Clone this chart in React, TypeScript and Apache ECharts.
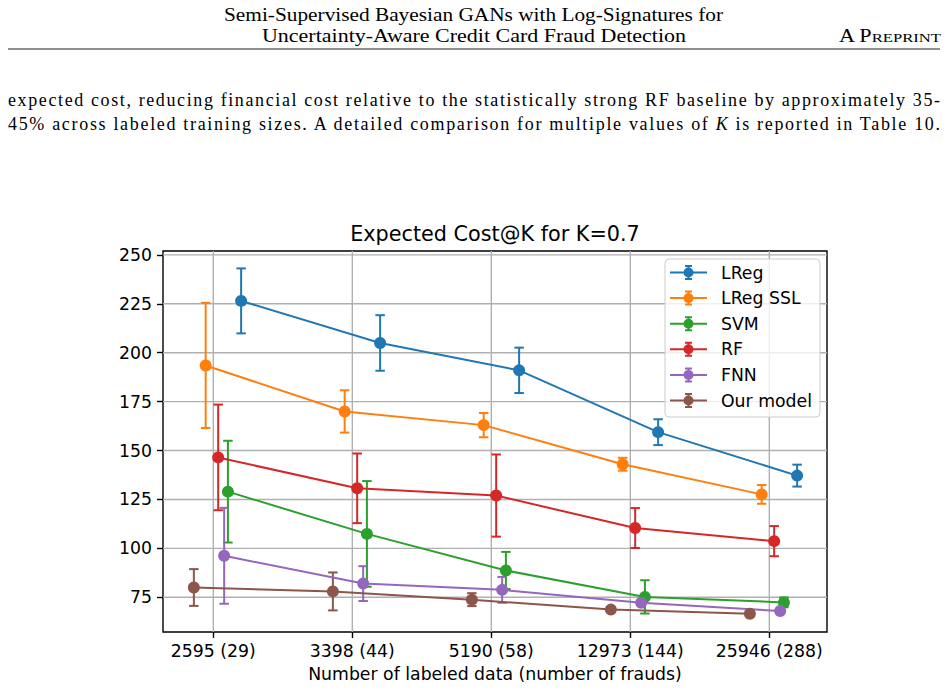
import React, { useEffect, useRef } from "react";
import * as echarts from "echarts";

// Labeled training set sizes (number of frauds in brackets)
const categories = ["2595 (29)", "3398 (44)", "5190 (58)", "12973 (144)", "25946 (288)"];
const models = ["LReg", "LReg SSL", "SVM", "RF", "FNN", "Our model"];

// Mean expected cost and its standard deviation per model
const lregMean = [226.5, 205.0, 191.0, 159.4, 137.2];
const lregErr = [16.6, 14.2, 11.6, 6.6, 5.6];
const lregSslMean = [193.5, 170.0, 163.0, 143.0, 127.6];
const lregSslErr = [32.0, 10.8, 6.2, 3.3, 4.8];
const svmMean = [129.0, 107.4, 88.7, 75.2, 72.4];
const svmErr = [26.0, 27.0, 9.5, 8.5, 2.5];
const rfMean = [146.5, 130.7, 127.0, 110.4, 103.7];
const rfErr = [27.0, 17.8, 21.0, 10.2, 7.7];
const fnnMean = [96.2, 82.0, 78.8, 72.2, 68.0];
const fnnErr = [24.5, 8.9, 6.6, 1.0, 1.0];
const oursMean = [80.0, 78.0, 73.8, 68.7, 66.6];
const oursErr = [9.4, 9.7, 3.3, 1.0, 1.0];

const yTicks = [75, 100, 125, 150, 175, 200, 225, 250];

const means = [lregMean, lregSslMean, svmMean, rfMean, fnnMean, oursMean];
const errs = [lregErr, lregSslErr, svmErr, rfErr, fnnErr, oursErr];

// matplotlib "tab10" colours and the horizontal dodge of each model
const palette = ["#1f77b4", "#ff7f0e", "#2ca02c", "#d62728", "#9467bd", "#8c564b"];
const dodge = [0.2, -0.055, 0.105, 0.035, 0.078, -0.14];

const FONT = "DejaVu Sans";
const FS = 17.3;
const CAP = 4.75;

// legend glyph: line + marker + error bar with caps
const legendIcon =
  "path://M0 6.5H37V8.5H0Z" +
  "M13.5 7.5A5 5 0 1 1 23.5 7.5A5 5 0 1 1 13.5 7.5Z" +
  "M17.5 0H19.5V15H17.5Z" +
  "M15 0H22V2H15Z" +
  "M15 13H22V15H15Z";

function buildOption(): echarts.EChartsOption {
  const series: any[] = [];

  // background grid: vertical lines at categories, horizontal at value ticks
  series.push({
    type: "custom",
    name: "grid lines",
    silent: true,
    z: 1,
    encode: { x: 0, y: 1 },
    data: [[0, yTicks[0]]],
    renderItem: (params: any, api: any) => {
      const cs = params.coordSys;
      const style = { stroke: "#b0b0b0", lineWidth: 1.4 };
      const children: any[] = [];
      categories.forEach((_, i) => {
        const x = api.coord([i, yTicks[0]])[0];
        children.push({
          type: "line",
          shape: { x1: x, y1: cs.y, x2: x, y2: cs.y + cs.height },
          style,
        });
      });
      yTicks.forEach((v) => {
        const y = api.coord([0, v])[1];
        children.push({
          type: "line",
          shape: { x1: cs.x, y1: y, x2: cs.x + cs.width, y2: y },
          style,
        });
      });
      return { type: "group", children };
    },
  });

  models.forEach((name, k) => {
    const color = palette[k];
    const xs = means[k].map((_, i) => i + dodge[k]);
    series.push({
      type: "custom",
      name: name + " error",
      silent: true,
      z: 2,
      encode: { x: 0, y: 1 },
      data: means[k].map((m, i) => [xs[i], m, errs[k][i]]),
      renderItem: (_params: any, api: any) => {
        const x = api.value(0);
        const m = api.value(1);
        const e = api.value(2);
        const top = api.coord([x, m + e]);
        const bot = api.coord([x, m - e]);
        const style = { stroke: color, lineWidth: 2 };
        return {
          type: "group",
          children: [
            { type: "line", shape: { x1: top[0], y1: top[1], x2: bot[0], y2: bot[1] }, style },
            { type: "line", shape: { x1: top[0] - CAP, y1: top[1], x2: top[0] + CAP, y2: top[1] }, style },
            { type: "line", shape: { x1: bot[0] - CAP, y1: bot[1], x2: bot[0] + CAP, y2: bot[1] }, style },
          ],
        };
      },
    });
    series.push({
      type: "line",
      name,
      z: 2,
      data: means[k].map((m, i) => [xs[i], m]),
      symbol: "circle",
      symbolSize: 12,
      showSymbol: true,
      lineStyle: { color, width: 2 },
      itemStyle: { color, borderWidth: 0 },
      emphasis: { disabled: true },
    });
  });

  return {
    animation: false,
    backgroundColor: "#ffffff",
    textStyle: { fontFamily: FONT },
    grid: {
      left: 163,
      right: 121,
      top: 251,
      bottom: 58,
      show: true,
      borderColor: "#000",
      borderWidth: 1.4,
      backgroundColor: "transparent",
    },
    graphic: [
      {
        type: "text",
        x: 495,
        y: 234,
        style: {
          text: "Expected Cost@K for K=0.7",
          fontSize: 20.75,
          fontFamily: FONT,
          fill: "#000",
          align: "center",
          verticalAlign: "middle",
        },
      },
    ],
    legend: {
      orient: "vertical",
      left: 665,
      top: 259,
      data: models,
      icon: legendIcon,
      itemWidth: 37,
      itemHeight: 15,
      itemGap: 8.6,
      padding: [5, 8, 8, 5],
      backgroundColor: "rgba(255,255,255,0.8)",
      borderColor: "#cccccc",
      borderWidth: 1,
      borderRadius: 4,
      selectedMode: false,
      textStyle: {
        fontSize: FS,
        fontFamily: FONT,
        color: "#000",
        padding: [0, 0, 0, 9],
      },
    },
    xAxis: {
      type: "value",
      min: -0.362,
      max: 4.415,
      name: "Number of labeled data (number of frauds)",
      nameLocation: "middle",
      nameGap: 33,
      nameTextStyle: { fontSize: FS, fontFamily: FONT, color: "#000" },
      axisLine: { show: false, onZero: false },
      splitLine: { show: false },
      axisTick: {
        show: true,
        customValues: categories.map((_, i) => i),
        length: 6,
        lineStyle: { color: "#000", width: 1.4 },
      },
      axisLabel: {
        customValues: categories.map((_, i) => i),
        formatter: (v: number) => categories[Math.round(v)] ?? "",
        fontSize: FS,
        fontFamily: FONT,
        color: "#000",
        margin: 10,
      },
    },
    yAxis: {
      type: "value",
      min: 57.26,
      max: 252.0,
      axisLine: { show: false, onZero: false },
      splitLine: { show: false },
      axisTick: {
        show: true,
        customValues: yTicks,
        length: 6,
        lineStyle: { color: "#000", width: 1.4 },
      },
      axisLabel: {
        customValues: yTicks,
        fontSize: FS,
        fontFamily: FONT,
        color: "#000",
        margin: 11,
      },
    },
    series,
  };
}

function Chart() {
  const ref = useRef<HTMLDivElement>(null);
  useEffect(() => {
    if (!ref.current) return;
    const chart = echarts.init(ref.current, undefined, { renderer: "svg" });
    chart.setOption(buildOption());
    return () => chart.dispose();
  }, []);
  return (
    <div
      ref={ref}
      style={{ position: "absolute", left: 0, top: 0, width: 948, height: 690 }}
    />
  );
}

export default function App() {
  const serif = "'Liberation Serif', 'Times New Roman', serif";
  return (
    <div
      style={{
        position: "absolute",
        left: 0,
        top: 0,
        width: 948,
        height: 690,
        background: "#fff",
        overflow: "hidden",
      }}
    >
      <Chart />
      <svg
        width={948}
        height={140}
        style={{ position: "absolute", left: 0, top: 0, pointerEvents: "none" }}
        fontFamily={serif}
        fill="#000"
      >
        <text x={224} y={20.5} fontSize={18} textLength={499} lengthAdjust="spacingAndGlyphs">
          Semi-Supervised Bayesian GANs with Log-Signatures for
        </text>
        <text x={262} y={42} fontSize={18} textLength={424} lengthAdjust="spacingAndGlyphs">
          Uncertainty-Aware Credit Card Fraud Detection
        </text>
        <text x={839} y={42} fontSize={18} textLength={102} lengthAdjust="spacingAndGlyphs">
          A P<tspan fontSize={13.5}>REPRINT</tspan>
        </text>
        <line x1={8} x2={940} y1={49} y2={49} stroke="#222" strokeWidth={1.2} />
        <text x={8} y={106} fontSize={18} textLength={932} lengthAdjust="spacing">
          expected cost, reducing financial cost relative to the statistically strong RF baseline by approximately 35-
        </text>
        <text x={8} y={129.5} fontSize={18} textLength={932} lengthAdjust="spacing">
          45% across labeled training sizes. A detailed comparison for multiple values of{" "}
          <tspan fontStyle="italic">K</tspan> is reported in Table 10.
        </text>
      </svg>
    </div>
  );
}
